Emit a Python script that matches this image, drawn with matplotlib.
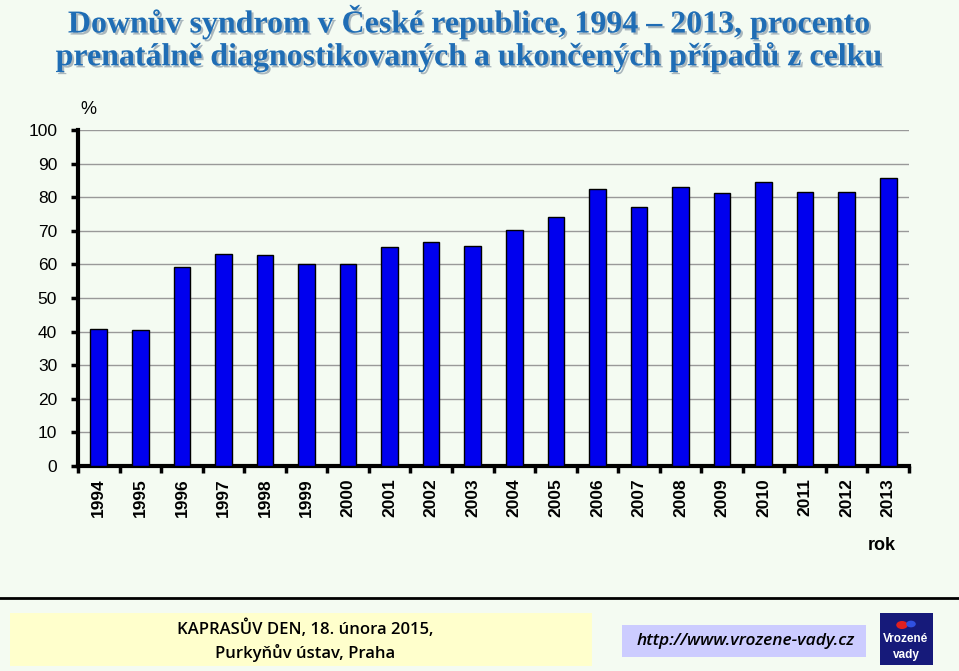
import matplotlib
matplotlib.use('Agg')
import matplotlib.pyplot as plt
import matplotlib.patheffects as pe
from matplotlib.patches import Rectangle, Circle
import numpy as np

years = [str(y) for y in range(1994, 2014)]
percent = [40.9, 40.6, 59.1, 63.0, 62.8, 60.0, 60.0, 65.3, 66.7, 65.6,
           70.2, 74.2, 82.5, 77.2, 83.1, 81.2, 84.5, 81.6, 81.4, 85.7]
yticks = list(range(0, 101, 10))

title_lines = ["Downův syndrom v České republice, 1994 – 2013, procento",
               "prenatálně diagnostikovaných a ukončených případů z celku"]
footer_left = "KAPRASŮV DEN, 18. února 2015,\nPurkyňův ústav, Praha"
footer_url = "http://www.vrozene-vady.cz"

bg = '#f4fbf2'
fig = plt.figure(figsize=(9.59, 6.71), dpi=100, facecolor=bg)

# title with soft shadow
shadow = [pe.withSimplePatchShadow(offset=(1.5, -1.5), shadow_rgbFace='#7a8a9a', alpha=0.6)]
for i, line in enumerate(title_lines):
    fig.text(0.49, 1 - (22 + i * 35) / 671, line, ha='center', va='center',
             family='Liberation Serif', weight='bold', size=23, color='#1f6db5',
             path_effects=shadow)

ax = fig.add_axes([78 / 959, 1 - 466 / 671, (909 - 78) / 959, (466 - 130) / 671])
ax.set_facecolor(bg)
x = np.arange(len(years))
ax.bar(x, percent, width=0.4, color='#0000ee', edgecolor='black', linewidth=1, zorder=3)

ax.set_xlim(-0.5, len(years) - 0.5)
ax.set_ylim(0, 100)
ax.set_yticks(yticks)
ax.set_yticklabels([str(t) for t in yticks], family='Liberation Sans', size=12.5)
ax.yaxis.grid(True, color='#999999', linewidth=1, zorder=0)
ax.set_axisbelow(True)

ax.set_xticks(x)
ax.set_xticklabels(years, rotation=90, family='Liberation Sans', weight='bold', size=12.5)
ax.set_xticks(np.arange(-0.5, len(years)), minor=True)
ax.tick_params(axis='x', which='major', length=0, pad=9)
ax.tick_params(axis='x', which='minor', length=5, width=2.5, direction='out')
ax.tick_params(axis='y', length=5, width=2.5, pad=10)

for s in ['top', 'right']:
    ax.spines[s].set_visible(False)
ax.spines['left'].set_linewidth(3)
ax.spines['bottom'].set_linewidth(3)

fig.text(88 / 959, 1 - 110 / 671, '%', ha='center', va='center',
         family='Liberation Sans', size=13)
fig.text(882 / 959, 1 - 545 / 671, 'rok', ha='center', va='center',
         family='Liberation Sans', weight='bold', size=13)

# footer
fig.add_artist(plt.Line2D([0, 1], [1 - 598 / 671] * 2, color='black', linewidth=2))
fig.add_artist(Rectangle((10 / 959, 1 - 666 / 671), 582 / 959, 53 / 671,
                         facecolor='#ffffcc', edgecolor='none'))
fig.text(305 / 959, 1 - 641 / 671, footer_left, ha='center', va='center',
         family='Open Sans', weight='semibold', size=12, linespacing=1.45)
fig.add_artist(Rectangle((622 / 959, 1 - 657 / 671), 244 / 959, 32 / 671,
                         facecolor='#ccccff', edgecolor='none'))
fig.text(746 / 959, 1 - 641 / 671, footer_url, ha='center', va='center',
         family='Open Sans', style='italic', weight='semibold', size=12.5)
fig.add_artist(Rectangle((880 / 959, 1 - 665 / 671), 53 / 959, 52 / 671,
                         facecolor='#161a7a', edgecolor='none'))
fig.add_artist(Circle((902 / 959, 1 - 625 / 671), 0.006, facecolor='#e02020',
                      edgecolor='none', transform=fig.transFigure))
fig.add_artist(Circle((911 / 959, 1 - 624 / 671), 0.005, facecolor='#3050e0',
                      edgecolor='none', transform=fig.transFigure))
fig.text(906 / 959, 1 - 647 / 671, 'Vrozené\nvady', ha='center', va='center',
         family='Liberation Sans', weight='bold', size=8.5, color='white',
         linespacing=1.4)

fig.savefig('out.png', dpi=100, facecolor=bg)
